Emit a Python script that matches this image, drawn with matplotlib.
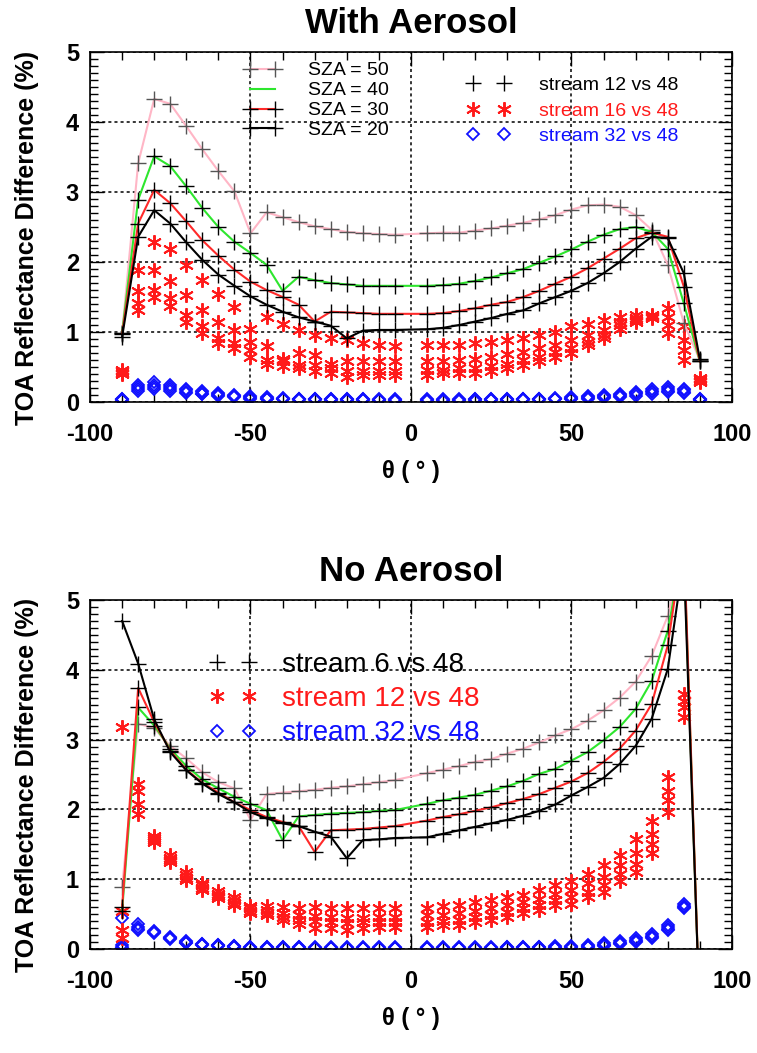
import matplotlib
matplotlib.use('Agg')
import matplotlib.pyplot as plt
from matplotlib.lines import Line2D
from matplotlib.ticker import MultipleLocator

plt.rcParams['font.family'] = ['Liberation Sans', 'DejaVu Sans']
plt.rcParams['axes.unicode_minus'] = False

# viewing angle (deg), 0 is not computed
theta = [-90, -85, -80, -75, -70, -65, -60, -55, -50, -45, -40, -35, -30, -25, -20, -15, -10, -5,
         5, 10, 15, 20, 25, 30, 35, 40, 45, 50, 55, 60, 65, 70, 75, 80, 85, 90]

sza_labels = ['SZA = 50', 'SZA = 40', 'SZA = 30', 'SZA = 20']
sza_colors = ['#ffb6c6', '#2ee62e', '#ff2a2a', '#000000']

# ---- With aerosol ----
# stream 12 vs 48, one row per SZA (50, 40, 30, 20)
aer_s12 = [
    [0.99, 3.41, 4.33, 4.26, 3.94, 3.61, 3.30, 3.01, 2.41, 2.71, 2.64, 2.57, 2.51, 2.47, 2.43, 2.41, 2.40, 2.39,
     2.41, 2.42, 2.42, 2.45, 2.48, 2.52, 2.56, 2.61, 2.67, 2.75, 2.81, 2.82, 2.79, 2.67, 2.46, 1.96, 1.13, 0.60],
    [0.99, 2.89, 3.51, 3.37, 3.08, 2.77, 2.50, 2.29, 2.13, 1.96, 1.59, 1.79, 1.74, 1.70, 1.68, 1.66, 1.66, 1.66,
     1.66, 1.67, 1.69, 1.73, 1.78, 1.84, 1.90, 1.99, 2.08, 2.18, 2.29, 2.39, 2.47, 2.50, 2.43, 2.19, 1.41, 0.58],
    [0.97, 2.55, 3.03, 2.84, 2.58, 2.31, 2.09, 1.89, 1.72, 1.60, 1.50, 1.39, 1.15, 1.29, 1.28, 1.27, 1.26, 1.26,
     1.26, 1.27, 1.30, 1.34, 1.39, 1.43, 1.50, 1.59, 1.69, 1.79, 1.91, 2.05, 2.19, 2.34, 2.42, 2.36, 1.65, 0.58],
    [0.93, 2.36, 2.74, 2.55, 2.28, 2.03, 1.82, 1.66, 1.51, 1.39, 1.29, 1.21, 1.15, 1.09, 0.91, 1.02, 1.03, 1.03,
     1.04, 1.06, 1.10, 1.15, 1.20, 1.26, 1.31, 1.41, 1.50, 1.59, 1.70, 1.84, 2.00, 2.19, 2.36, 2.34, 1.84, 0.61],
]

# stream 16 vs 48, one tuple per angle (SZA 50, 40, 30, 20)
aer_s16 = [
    (0.46, 0.44, 0.42, 0.40), (1.89, 1.58, 1.41, 1.31), (2.29, 1.89, 1.60, 1.50), (2.18, 1.73, 1.48, 1.37),
    (1.96, 1.53, 1.24, 1.15), (1.74, 1.31, 1.08, 0.99), (1.55, 1.15, 0.91, 0.84), (1.36, 1.03, 0.84, 0.77),
    (1.05, 0.86, 0.74, 0.65), (1.21, 0.80, 0.60, 0.55), (1.12, 0.62, 0.58, 0.52), (1.03, 0.70, 0.53, 0.48),
    (0.96, 0.67, 0.53, 0.44), (0.91, 0.55, 0.48, 0.42), (0.88, 0.58, 0.44, 0.36), (0.84, 0.58, 0.45, 0.38),
    (0.81, 0.58, 0.44, 0.39), (0.80, 0.58, 0.44, 0.39),
    (0.81, 0.58, 0.46, 0.39), (0.81, 0.59, 0.46, 0.41), (0.82, 0.60, 0.48, 0.42), (0.84, 0.62, 0.49, 0.42),
    (0.86, 0.65, 0.52, 0.45), (0.88, 0.69, 0.55, 0.48), (0.91, 0.71, 0.60, 0.53), (0.96, 0.77, 0.65, 0.58),
    (1.00, 0.81, 0.72, 0.65), (1.08, 0.88, 0.77, 0.70), (1.12, 0.96, 0.86, 0.81), (1.17, 1.03, 0.96, 0.91),
    (1.21, 1.15, 1.10, 1.05), (1.24, 1.20, 1.17, 1.15), (1.25, 1.23, 1.22, 1.20), (1.34, 1.22, 1.10, 0.98),
    (1.08, 0.88, 0.75, 0.60), (0.35, 0.33, 0.30, 0.28),
]

# stream 32 vs 48
aer_s32 = [
    (0.05, 0.04, 0.03, 0.03), (0.24, 0.21, 0.18, 0.16), (0.28, 0.25, 0.22, 0.19), (0.25, 0.22, 0.19, 0.16),
    (0.19, 0.17, 0.15, 0.13), (0.16, 0.14, 0.12, 0.11), (0.13, 0.11, 0.10, 0.09), (0.10, 0.09, 0.08, 0.07),
    (0.08, 0.07, 0.06, 0.05), (0.07, 0.06, 0.05, 0.04), (0.06, 0.05, 0.04, 0.04), (0.05, 0.05, 0.04, 0.03),
    (0.05, 0.04, 0.04, 0.03), (0.05, 0.04, 0.03, 0.03), (0.04, 0.04, 0.03, 0.03), (0.04, 0.04, 0.03, 0.03),
    (0.04, 0.03, 0.03, 0.03), (0.04, 0.03, 0.03, 0.02),
    (0.04, 0.03, 0.03, 0.02), (0.04, 0.03, 0.03, 0.02), (0.04, 0.03, 0.03, 0.02), (0.04, 0.04, 0.03, 0.02),
    (0.04, 0.04, 0.03, 0.03), (0.05, 0.04, 0.03, 0.03), (0.05, 0.04, 0.04, 0.03), (0.05, 0.05, 0.04, 0.03),
    (0.06, 0.05, 0.04, 0.04), (0.07, 0.06, 0.05, 0.04), (0.08, 0.07, 0.06, 0.05), (0.10, 0.08, 0.07, 0.06),
    (0.12, 0.10, 0.09, 0.07), (0.15, 0.13, 0.11, 0.09), (0.18, 0.16, 0.14, 0.12), (0.21, 0.18, 0.16, 0.14),
    (0.19, 0.17, 0.15, 0.13), (0.05, 0.04, 0.03, 0.03),
]

# ---- No aerosol ----
# stream 6 vs 48, one row per SZA
noaer_s6 = [
    [0.89, 3.23, 3.16, 2.91, 2.73, 2.53, 2.39, 2.30, 1.85, 2.22, 2.24, 2.26, 2.28, 2.31, 2.33, 2.36, 2.39, 2.42,
     2.52, 2.57, 2.62, 2.68, 2.72, 2.80, 2.87, 2.96, 3.06, 3.15, 3.27, 3.42, 3.60, 3.83, 4.20, 4.77, 5.70, -1.00],
    [0.55, 3.46, 3.20, 2.87, 2.62, 2.43, 2.30, 2.18, 2.08, 1.99, 1.56, 1.90, 1.92, 1.94, 1.95, 1.96, 1.98, 1.99,
     2.08, 2.13, 2.17, 2.21, 2.27, 2.33, 2.41, 2.51, 2.58, 2.70, 2.82, 2.99, 3.18, 3.44, 3.84, 4.56, 5.80, -1.00],
    [0.60, 3.74, 3.25, 2.84, 2.57, 2.38, 2.24, 2.10, 1.99, 1.89, 1.82, 1.76, 1.39, 1.70, 1.71, 1.72, 1.74, 1.76,
     1.84, 1.89, 1.93, 1.98, 2.03, 2.09, 2.15, 2.22, 2.31, 2.40, 2.52, 2.68, 2.87, 3.13, 3.51, 4.35, 5.90, -1.00],
    [4.70, 4.09, 3.29, 2.82, 2.56, 2.37, 2.22, 2.10, 1.96, 1.87, 1.80, 1.76, 1.68, 1.61, 1.30, 1.56, 1.57, 1.59,
     1.60, 1.65, 1.70, 1.75, 1.80, 1.85, 1.91, 1.98, 2.07, 2.20, 2.32, 2.45, 2.65, 2.91, 3.30, 4.01, 5.60, -1.00],
]

# stream 12 vs 48
noaer_s12 = [
    (3.18, 0.55, 0.27, 0.15), (2.37, 2.27, 2.08, 1.94), (1.62, 1.59, 1.56, 1.53), (1.34, 1.30, 1.27, 1.24),
    (1.10, 1.06, 1.02, 0.99), (0.95, 0.91, 0.88, 0.85), (0.83, 0.79, 0.76, 0.73), (0.74, 0.70, 0.66, 0.63),
    (0.62, 0.58, 0.55, 0.52), (0.62, 0.56, 0.52, 0.48), (0.60, 0.52, 0.46, 0.42), (0.59, 0.49, 0.42, 0.36),
    (0.60, 0.47, 0.40, 0.30), (0.58, 0.46, 0.38, 0.30), (0.58, 0.45, 0.37, 0.27), (0.58, 0.45, 0.38, 0.30),
    (0.58, 0.46, 0.38, 0.31), (0.58, 0.46, 0.39, 0.32),
    (0.58, 0.49, 0.39, 0.32), (0.61, 0.49, 0.40, 0.35), (0.63, 0.51, 0.42, 0.35), (0.67, 0.55, 0.46, 0.39),
    (0.70, 0.58, 0.49, 0.41), (0.75, 0.63, 0.53, 0.46), (0.78, 0.67, 0.58, 0.51), (0.84, 0.72, 0.63, 0.56),
    (0.91, 0.79, 0.70, 0.63), (0.98, 0.84, 0.75, 0.65), (1.08, 0.94, 0.82, 0.75), (1.20, 1.03, 0.91, 0.82),
    (1.34, 1.20, 1.08, 0.98), (1.58, 1.37, 1.22, 1.10), (1.84, 1.65, 1.51, 1.37), (2.46, 2.27, 2.13, 1.96),
    (3.65, 3.56, 3.46, 3.32), (-0.60, -0.70, -0.80, -0.90),
]

# stream 32 vs 48
noaer_s32 = [
    (0.44, 0.06, 0.03, 0.02), (0.36, 0.32, 0.29, 0.27), (0.26, 0.25, 0.24, 0.23), (0.17, 0.16, 0.15, 0.14),
    (0.11, 0.10, 0.09, 0.08), (0.07, 0.07, 0.06, 0.05), (0.05, 0.05, 0.04, 0.04), (0.04, 0.04, 0.03, 0.03),
    (0.03, 0.03, 0.02, 0.02), (0.03, 0.03, 0.02, 0.02), (0.03, 0.03, 0.02, 0.02), (0.03, 0.03, 0.02, 0.02),
    (0.03, 0.02, 0.02, 0.02), (0.03, 0.02, 0.02, 0.02), (0.03, 0.02, 0.02, 0.02), (0.03, 0.02, 0.02, 0.02),
    (0.03, 0.02, 0.02, 0.02), (0.03, 0.02, 0.02, 0.02),
    (0.03, 0.02, 0.02, 0.02), (0.03, 0.02, 0.02, 0.02), (0.03, 0.02, 0.02, 0.02), (0.03, 0.02, 0.02, 0.02),
    (0.03, 0.02, 0.02, 0.02), (0.03, 0.03, 0.02, 0.02), (0.03, 0.03, 0.02, 0.02), (0.03, 0.03, 0.02, 0.02),
    (0.04, 0.03, 0.02, 0.02), (0.04, 0.03, 0.03, 0.02), (0.05, 0.04, 0.03, 0.03), (0.08, 0.06, 0.05, 0.04),
    (0.11, 0.09, 0.08, 0.07), (0.15, 0.13, 0.11, 0.10), (0.21, 0.19, 0.17, 0.15), (0.34, 0.31, 0.29, 0.27),
    (0.65, 0.62, 0.60, 0.58), (-0.50, -0.50, -0.50, -0.50),
]

STAR = (6, 2, 0)
STAR_RED = '#ff1a1a'
DIA_BLUE = '#1010ff'


def draw_panel(ax, lines, stars, diamonds, title):
    ax.set_xlim(-100, 100)
    ax.set_ylim(0, 5)
    ax.xaxis.set_major_locator(MultipleLocator(50))
    ax.xaxis.set_minor_locator(MultipleLocator(10))
    ax.yaxis.set_major_locator(MultipleLocator(1))
    ax.yaxis.set_minor_locator(MultipleLocator(0.1))
    ax.tick_params(which='both', direction='in', top=True, right=True, width=1)
    ax.tick_params(which='major', length=10, labelsize=17)
    ax.tick_params(which='minor', length=6)
    ax.tick_params(axis='x', pad=15)
    ax.tick_params(axis='y', pad=8)
    ax.grid(which='major', color='k', linestyle=(0, (2, 2)), linewidth=1.1)
    ax.set_axisbelow(True)
    for sp in ax.spines.values():
        sp.set_linewidth(1.2)

    star_rows = list(zip(*stars))
    dia_rows = list(zip(*diamonds))
    for i in range(4):
        ax.plot(theta, star_rows[i], ls='none', marker=STAR, ms=10.5, mew=1.4, color=STAR_RED)
        ax.plot(theta, dia_rows[i], ls='none', marker='D', ms=6.5, mew=1.3,
                mfc='none', mec=DIA_BLUE)
    for i in range(4):
        ax.plot(theta, lines[i], color=sza_colors[i], lw=1.5)
        mc = '#555555' if i == 0 else 'k'
        ax.plot(theta, lines[i], ls='none', marker='+', ms=11, mew=1.0, color=mc)

    ax.set_title(title, fontsize=25, fontweight='bold', pad=14)
    ax.set_xlabel('θ ( ° )', fontsize=17, fontweight='bold', labelpad=10)
    ax.set_ylabel('TOA Reflectance Difference (%)', fontsize=18, fontweight='bold')
    ax.yaxis.set_label_coords(-0.08, 0.47)
    for lab in ax.get_xticklabels() + ax.get_yticklabels():
        lab.set_fontweight('bold')


fig = plt.figure(figsize=(7.57, 10.53), dpi=100)
ax1 = fig.add_axes([0.1189, 0.6182, 0.848, 0.3324])
ax2 = fig.add_axes([0.1189, 0.0988, 0.848, 0.3314])

draw_panel(ax1, aer_s12, aer_s16, aer_s32, 'With Aerosol')
draw_panel(ax2, noaer_s6, noaer_s12, noaer_s32, 'No Aerosol')

# legends of the top panel
sza_handles = []
for i in range(4):
    mk = None if i == 1 else '+'
    mc = '#555555' if i == 0 else 'k'
    sza_handles.append(Line2D([], [], color=sza_colors[i], lw=1.5, marker=mk, ms=11, mec=mc))
leg1 = ax1.legend(sza_handles, sza_labels, loc='upper left', bbox_to_anchor=(0.240, 0.972),
                  numpoints=2, frameon=False, fontsize=14, handlelength=1.9, handletextpad=1.4,
                  labelspacing=0.12, borderpad=0, borderaxespad=0)
ax1.add_artist(leg1)

stream_colors = ['black', STAR_RED, DIA_BLUE]
top_handles = [Line2D([], [], ls='none', marker='+', ms=11, color='k'),
               Line2D([], [], ls='none', marker=STAR, ms=10.5, mew=1.4, color=STAR_RED),
               Line2D([], [], ls='none', marker='D', ms=6.5, mew=1.3, mfc='none', mec=DIA_BLUE)]
leg2 = ax1.legend(top_handles, ['stream 12 vs 48', 'stream 16 vs 48', 'stream 32 vs 48'],
                  loc='upper left', bbox_to_anchor=(0.588, 0.930), numpoints=2, frameon=False,
                  fontsize=14, handlelength=2.2, handletextpad=1.5, labelspacing=0.4,
                  borderpad=0, borderaxespad=0)
for t, c in zip(leg2.get_texts(), stream_colors):
    t.set_color(c)

# legend of the bottom panel
bot_handles = [Line2D([], [], ls='none', marker='+', ms=11, color='k'),
               Line2D([], [], ls='none', marker=STAR, ms=10.5, mew=1.4, color=STAR_RED),
               Line2D([], [], ls='none', marker='D', ms=6.5, mew=1.3, mfc='none', mec=DIA_BLUE)]
leg3 = ax2.legend(bot_handles, ['stream 6 vs 48', 'stream 12 vs 48', 'stream 32 vs 48'],
                  loc='upper left', bbox_to_anchor=(0.185, 0.852), numpoints=2, frameon=False,
                  fontsize=20, handlelength=1.75, handletextpad=0.9, labelspacing=0.3,
                  borderpad=0, borderaxespad=0)
for t, c in zip(leg3.get_texts(), stream_colors):
    t.set_color(c)

fig.savefig('out.png', dpi=100)
